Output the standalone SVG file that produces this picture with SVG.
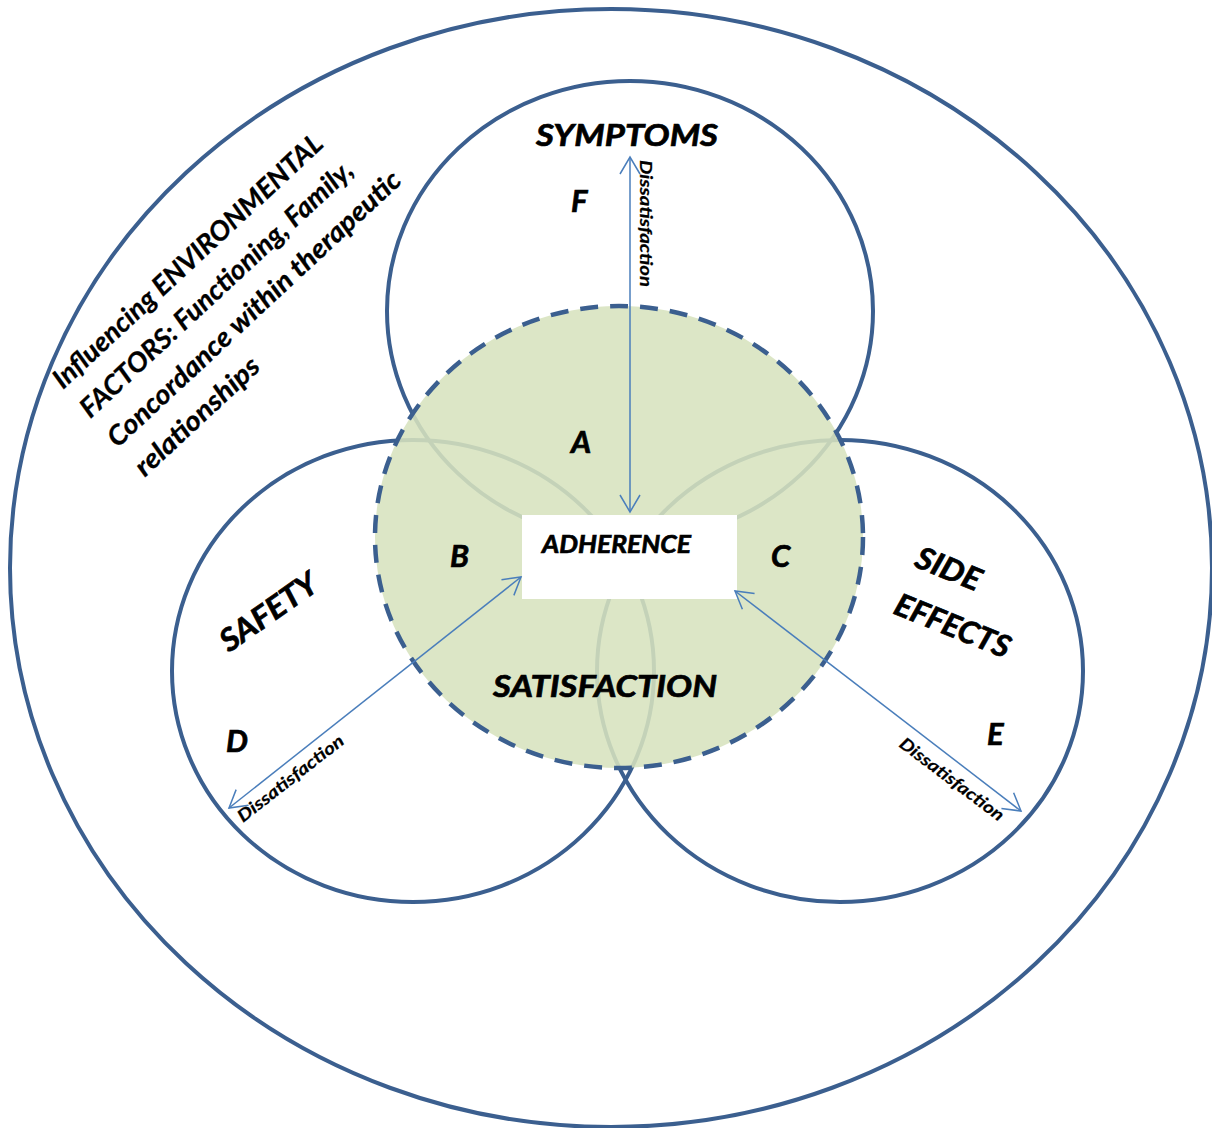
<svg xmlns="http://www.w3.org/2000/svg" width="1212" height="1128" viewBox="0 0 1212 1128">
  <defs>
    <style>
      .ring { fill: none; stroke: #3b5f8f; stroke-width: 4; }
      .lbl { font-family: Lato, "Open Sans", "Liberation Sans", sans-serif; font-style: italic; font-weight: 700; fill: #000; stroke: #000; stroke-width: 0.7; }
      .big { font-size: 31px; }
      .env { font-family: Lato, "Open Sans", "Liberation Sans", sans-serif; font-style: italic; font-weight: 700; font-size: 27px; fill: #000; stroke: #000; stroke-width: 0.3; }
      .dis { font-family: Lato, "Open Sans", "Liberation Sans", sans-serif; font-style: italic; font-weight: 700; font-size: 17px; fill: #000; stroke: #000; stroke-width: 0.2; }
      .conn { fill: none; stroke: #4a7ebb; stroke-width: 1.5; marker-start: url(#arr); marker-end: url(#arr); }
    </style>
    <marker id="arr" viewBox="-20 -12 24 24" refX="0" refY="0" markerWidth="24" markerHeight="24" markerUnits="userSpaceOnUse" orient="auto-start-reverse">
      <path d="M -17 -10 L 0 0 L -17 10" fill="none" stroke="#4a7ebb" stroke-width="1.5"/>
    </marker>
  </defs>

  <rect x="0" y="0" width="1212" height="1128" fill="#ffffff"/>

  <g id="environment">
    <ellipse class="ring" cx="611" cy="568" rx="601" ry="559"/>
    <g transform="translate(63,390) rotate(-43)">
      <text class="env" x="0" y="0" textLength="358" lengthAdjust="spacingAndGlyphs">Influencing ENVIRONMENTAL</text>
      <text class="env" x="0" y="40" textLength="362" lengthAdjust="spacingAndGlyphs">FACTORS: Functioning, Family,</text>
      <text class="env" x="0" y="80" textLength="390" lengthAdjust="spacingAndGlyphs">Concordance within therapeutic</text>
      <text class="env" x="0" y="120" textLength="160" lengthAdjust="spacingAndGlyphs">relationships</text>
    </g>
  </g>

  <g id="symptoms">
    <ellipse class="ring" cx="630" cy="311" rx="243" ry="230"/>
    <text class="lbl big" x="536" y="146" textLength="182" lengthAdjust="spacingAndGlyphs">SYMPTOMS</text>
    <text class="lbl big" x="571" y="212">F</text>
  </g>

  <g id="safety">
    <ellipse class="ring" cx="413" cy="671" rx="241" ry="231"/>
    <text class="lbl big" transform="translate(229,653) rotate(-35)" textLength="112" lengthAdjust="spacingAndGlyphs">SAFETY</text>
    <text class="lbl big" x="226" y="752">D</text>
  </g>

  <g id="side-effects">
    <ellipse class="ring" cx="840" cy="671" rx="243" ry="231"/>
    <text class="lbl big" transform="translate(913,566) rotate(22)" textLength="68" lengthAdjust="spacingAndGlyphs">SIDE</text>
    <text class="lbl big" transform="translate(892,613) rotate(22)" textLength="122" lengthAdjust="spacingAndGlyphs">EFFECTS</text>
    <text class="lbl big" x="987" y="745">E</text>
  </g>

  <g id="satisfaction">
    <ellipse cx="619" cy="537" rx="244" ry="231" fill="rgb(215,227,190)" fill-opacity="0.88"/>
    <ellipse cx="619" cy="537" rx="244" ry="231" fill="none" stroke="#3b5f8f" stroke-width="4.5" stroke-dasharray="18 12"/>
    <text class="lbl big" x="493" y="697" textLength="224" lengthAdjust="spacingAndGlyphs">SATISFACTION</text>
    <text class="lbl big" x="571" y="453">A</text>
    <text class="lbl big" x="450" y="567">B</text>
    <text class="lbl big" x="771" y="567">C</text>
  </g>

  <g id="adherence">
    <rect x="522" y="515" width="215" height="84" fill="#ffffff"/>
    <text class="lbl" font-size="25" x="542" y="553" textLength="149" lengthAdjust="spacingAndGlyphs">ADHERENCE</text>
  </g>

  <g id="connectors">
    <line class="conn" x1="630" y1="157" x2="630" y2="512"/>
    <line class="conn" x1="229" y1="808" x2="521" y2="577"/>
    <line class="conn" x1="735" y1="591" x2="1021" y2="811"/>
    <text class="dis" transform="translate(640,160) rotate(90)" textLength="127" lengthAdjust="spacingAndGlyphs">Dissatisfaction</text>
    <text class="dis" transform="translate(243,823) rotate(-38)" textLength="130" lengthAdjust="spacingAndGlyphs">Dissatisfaction</text>
    <text class="dis" transform="translate(898,746) rotate(37)" textLength="126" lengthAdjust="spacingAndGlyphs">Dissatisfaction</text>
  </g>
</svg>
